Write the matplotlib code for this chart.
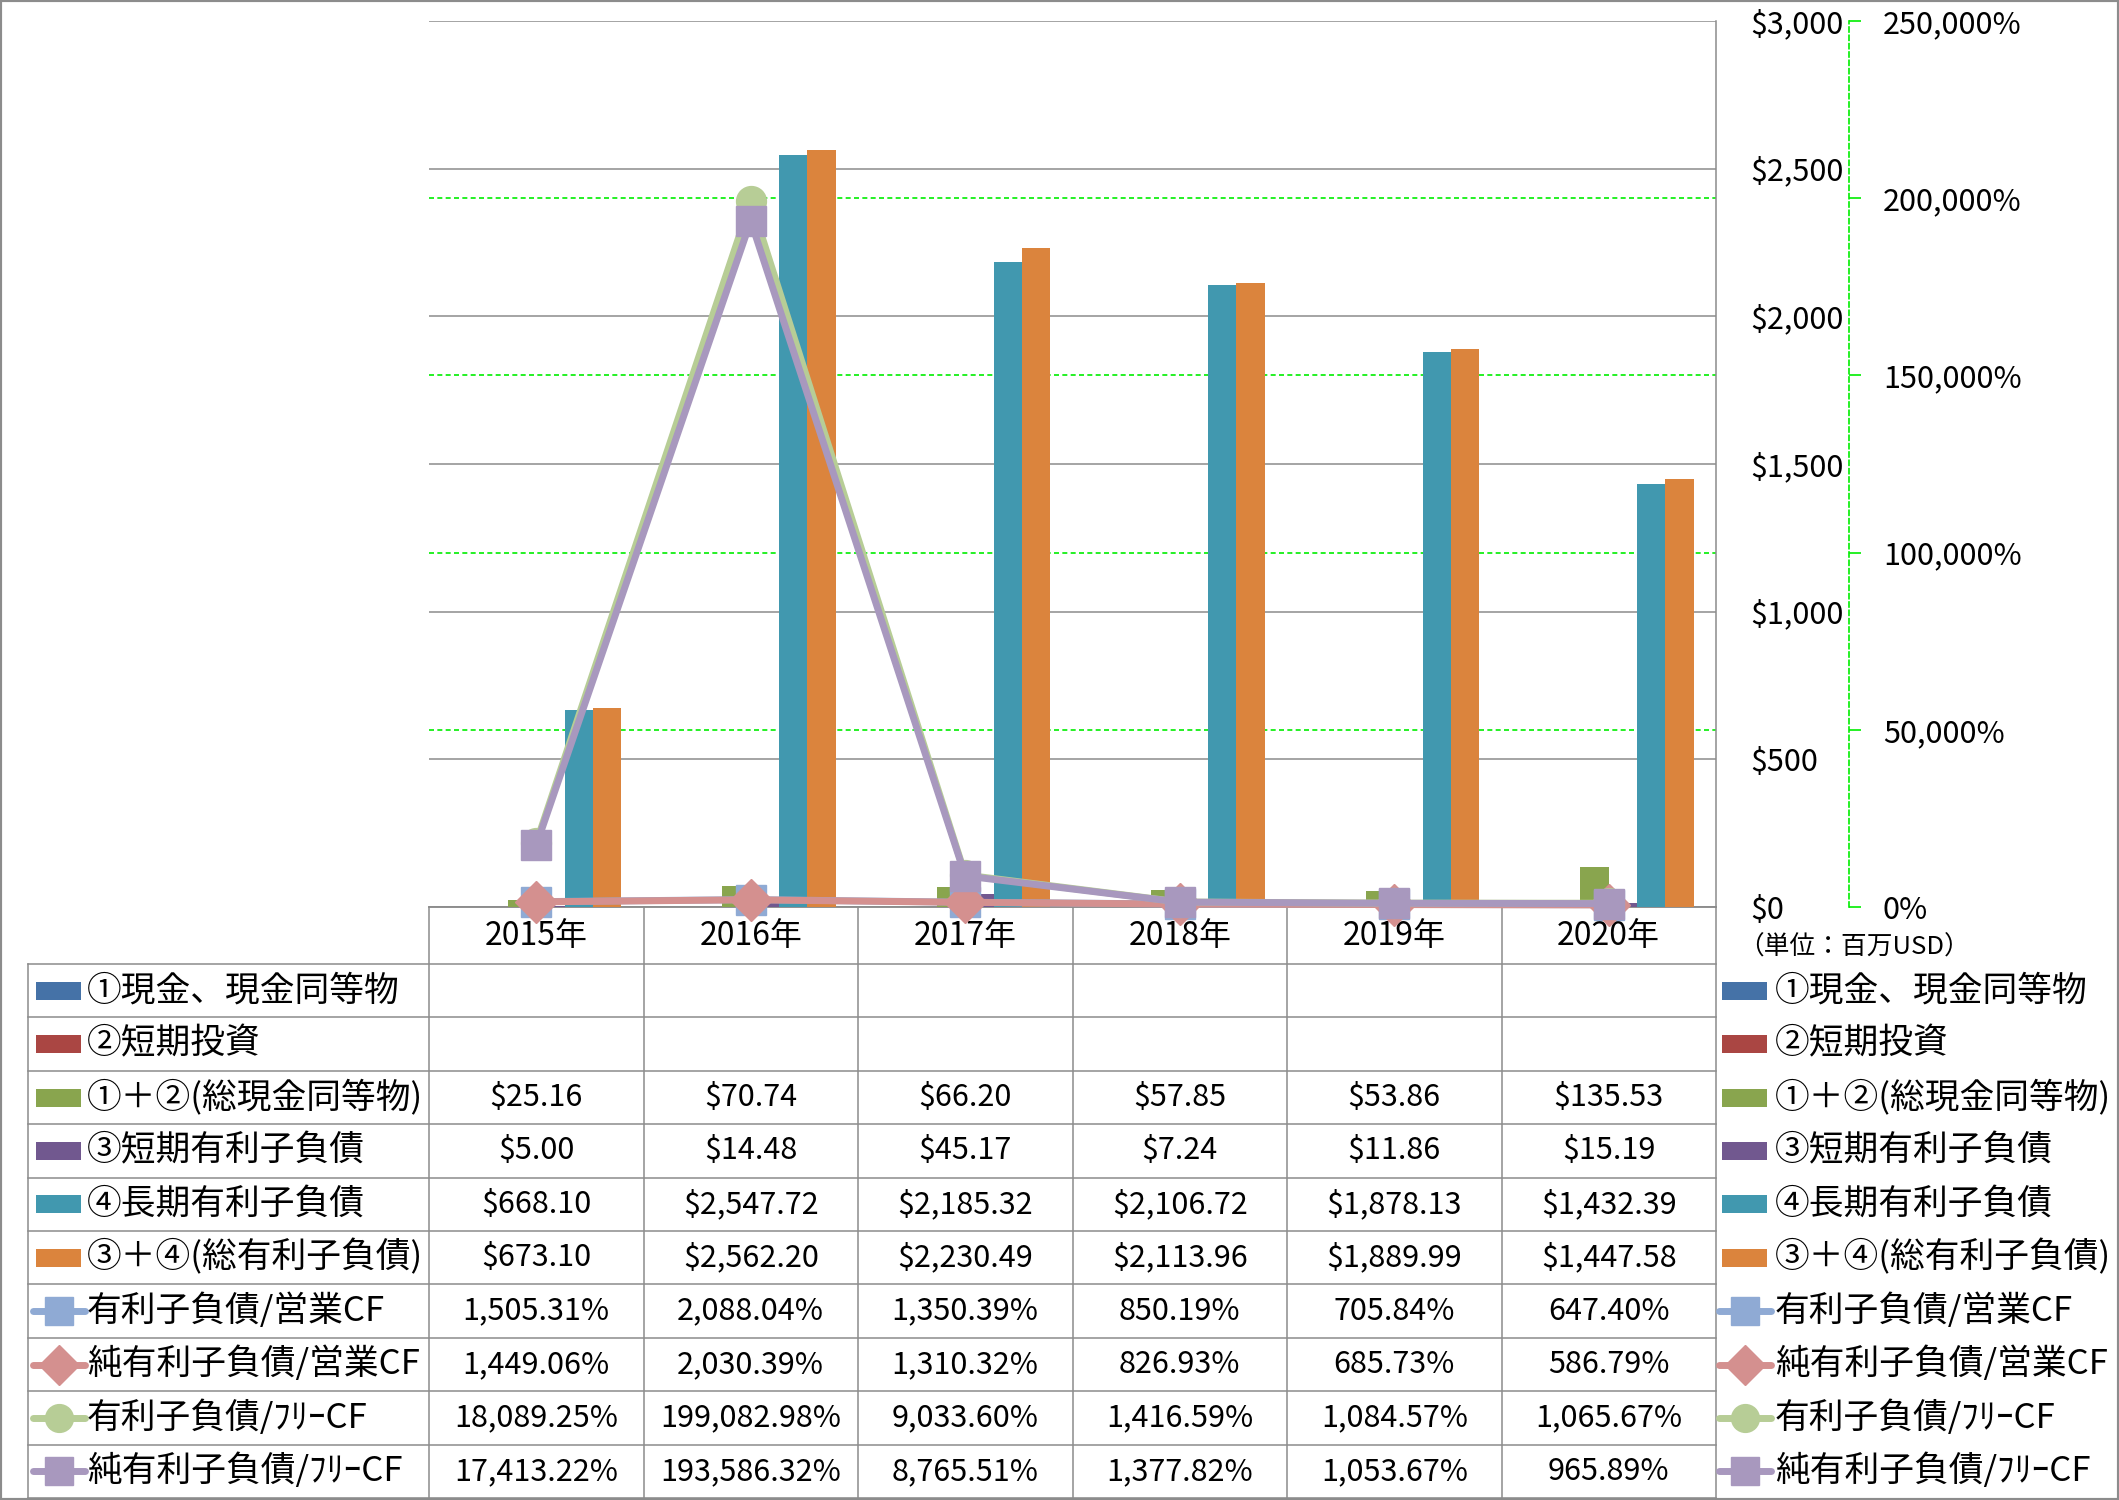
import numpy as np
import matplotlib
matplotlib.use("Agg")
import matplotlib.pyplot as plt
from matplotlib.patches import Rectangle

plt.rcParams['font.family'] = ['Noto Sans CJK JP', 'DejaVu Sans']

years = ['2015年', '2016年', '2017年', '2018年', '2019年', '2020年']

cash = [np.nan, np.nan, np.nan, np.nan, np.nan, np.nan]
short_inv = [np.nan, np.nan, np.nan, np.nan, np.nan, np.nan]
total_cash = [25.16, 70.74, 66.20, 57.85, 53.86, 135.53]
short_debt = [5.00, 14.48, 45.17, 7.24, 11.86, 15.19]
long_debt = [668.10, 2547.72, 2185.32, 2106.72, 1878.13, 1432.39]
total_debt = [673.10, 2562.20, 2230.49, 2113.96, 1889.99, 1447.58]

debt_ocf = [1505.31, 2088.04, 1350.39, 850.19, 705.84, 647.40]
netdebt_ocf = [1449.06, 2030.39, 1310.32, 826.93, 685.73, 586.79]
debt_fcf = [18089.25, 199082.98, 9033.60, 1416.59, 1084.57, 1065.67]
netdebt_fcf = [17413.22, 193586.32, 8765.51, 1377.82, 1053.67, 965.89]

bar_names = ['①現金、現金同等物', '②短期投資', '①＋②(総現金同等物)',
             '③短期有利子負債', '④長期有利子負債', '③＋④(総有利子負債)']
bar_data = [cash, short_inv, total_cash, short_debt, long_debt, total_debt]
bar_colors = ['#4572A7', '#AA4643', '#89A54E', '#71588F', '#4198AF', '#DB843D']

line_names = ['有利子負債/営業CF', '純有利子負債/営業CF', '有利子負債/ﾌﾘｰCF', '純有利子負債/ﾌﾘｰCF']
line_data = [debt_ocf, netdebt_ocf, debt_fcf, netdebt_fcf]
line_colors = ['#8FAAD4', '#D4908F', '#B7CD96', '#A898BE']
line_markers = ['s', 'D', 'o', 's']

prim_max = 3000
sec_max = 250000

# layout in pixels
W, H = 2119, 1500
PL, PR, PT, PB = 429, 1716, 21, 907
ROW0, ROWH = 964, 53.4
TL = 28
grid_c = '#8C8C8C'
green = '#00EE00'

fig = plt.figure(figsize=(W / 100, H / 100), dpi=100)

tab = fig.add_axes([0, 0, 1, 1])
tab.set_xlim(0, W)
tab.set_ylim(H, 0)
tab.axis('off')

ax = fig.add_axes([PL / W, 1 - PB / H, (PR - PL) / W, (PB - PT) / H])
ax.patch.set_alpha(0)
x = np.arange(len(years))
w = 0.132
for i, (vals, c) in enumerate(zip(bar_data, bar_colors)):
    vals = np.array(vals, dtype=float)
    if np.isnan(vals).all():
        continue
    ax.bar(x + (i - 2.5) * w, vals, w, color=c, zorder=3)
ax.set_xlim(-0.5, len(years) - 0.5)
ax.set_ylim(0, prim_max)
ax.set_xticks([])
ax.grid(axis='y', color=grid_c, lw=1.1, zorder=1)
ax.set_axisbelow(True)

sec_ticks = np.arange(0, sec_max + 1, 50000)
for t in sec_ticks[1:-1]:
    ax.axhline(t / sec_max * prim_max, color=green, lw=1.2, ls=(0, (3, 2)), zorder=1)

ax2 = ax.twinx()
ax2.set_ylim(0, sec_max)
ax2.set_yticks(sec_ticks)
ax2.set_yticklabels([f'{v:,.0f}%' for v in sec_ticks])
ax2.spines['right'].set_position(('outward', 133 * 0.72))
ax2.spines['right'].set_color(green)
ax2.spines['right'].set_linestyle((0, (3, 2)))
ax2.spines['right'].set_linewidth(1.2)
for s in ['top', 'left', 'bottom']:
    ax2.spines[s].set_visible(False)
ax2.tick_params(axis='y', length=12 * 0.72, width=1.2, color=green, pad=22 * 0.72, labelsize=22)

# primary axis labels sit on the right too (twinx resets them to the left)
prim_ticks = np.arange(0, prim_max + 1, 500)
ax.yaxis.tick_right()
ax.set_yticks(prim_ticks)
ax.set_yticklabels([f'${v:,.0f}' for v in prim_ticks])
ax.tick_params(axis='y', length=0, pad=24.5, labelsize=22)
ax.spines['top'].set_visible(False)
ax.spines['left'].set_visible(False)
ax.spines['right'].set_color(grid_c)
ax.spines['bottom'].set_color(grid_c)
ax.spines['right'].set_linewidth(1.1)
ax.spines['bottom'].set_linewidth(1.1)

for vals, c, m in zip(line_data, line_colors, line_markers):
    ax2.plot(x, vals, color=c, lw=5, marker=m, ms=21.5, mec=c, mew=1,
             clip_on=False, solid_joinstyle='round', zorder=4)

# data table
n = len(years)
colw = (PR - PL) / n
names = bar_names + line_names
nrows = len(names)
bottom = ROW0 + nrows * ROWH

tab.plot([PL, PR], [PB, PB], color=grid_c, lw=1.1)
for k in range(nrows + 1):
    yy = ROW0 + k * ROWH
    tab.plot([TL, PR], [yy, yy], color=grid_c, lw=1.1)
tab.plot([TL, TL], [ROW0, bottom], color=grid_c, lw=1.1)
for j in range(n + 1):
    xx = PL + j * colw
    tab.plot([xx, xx], [PB, bottom], color=grid_c, lw=1.1)

for j, yr in enumerate(years):
    tab.text(PL + (j + 0.5) * colw, (PB + ROW0) / 2 + 1, yr, ha='center', va='center', fontsize=23)


def draw_key(x0, x1, cy, kind, color, marker=None):
    if kind == 'bar':
        tab.add_patch(Rectangle((x0 + 3, cy - 9), x1 - x0 - 7, 18, color=color, lw=0))
    else:
        tab.plot([x0, x1], [cy, cy], color=color, lw=5, solid_capstyle='round')
        tab.plot([(x0 + x1) / 2], [cy], marker=marker, ms=20, color=color, mec=color)


rows = []
for nm, vals, c in zip(bar_names, bar_data, bar_colors):
    rows.append((nm, vals, 'bar', c, None, '${:,.2f}'))
for nm, vals, c, m in zip(line_names, line_data, line_colors, line_markers):
    rows.append((nm, vals, 'line', c, m, '{:,.2f}%'))

for k, (nm, vals, kind, c, m, fmt) in enumerate(rows):
    cy = ROW0 + (k + 0.5) * ROWH
    draw_key(33, 85, cy, kind, c, m)
    tab.text(87, cy, nm, ha='left', va='center', fontsize=25)
    draw_key(1719, 1771, cy, kind, c, m)
    tab.text(1775, cy, nm, ha='left', va='center', fontsize=25)
    for j, v in enumerate(vals):
        if np.isnan(v):
            continue
        tab.text(PL + (j + 0.5) * colw, cy, fmt.format(v), ha='center', va='center', fontsize=22)

tab.text(1738, 948, '（単位：百万USD）', ha='left', va='center', fontsize=18.5)

fig.add_artist(Rectangle((0, 0), 1, 1, transform=fig.transFigure, fill=False, ec=grid_c, lw=3))

fig.savefig('out.png', dpi=100)
